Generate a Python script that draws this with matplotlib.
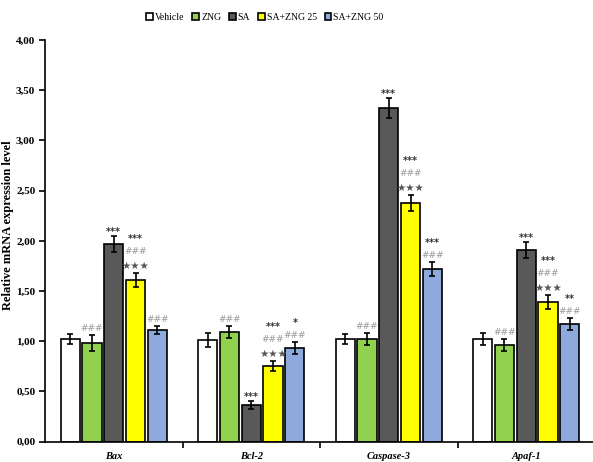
import matplotlib.pyplot as plt
import numpy as np

# Dados
genes = ['Bax', 'Bcl-2', 'Caspase-3', 'Apaf-1']
grupos = ['Vehicle', 'ZNG', 'SA', 'SA+ZNG 25', 'SA+ZNG 50']

vehicle = [1.02, 1.01, 1.02, 1.02]
zng = [0.98, 1.09, 1.02, 0.96]
sa = [1.97, 0.37, 3.32, 1.91]
sa_zng25 = [1.61, 0.75, 2.38, 1.39]
sa_zng50 = [1.11, 0.93, 1.72, 1.17]

err_vehicle = [0.05, 0.07, 0.05, 0.06]
err_zng = [0.08, 0.06, 0.06, 0.06]
err_sa = [0.08, 0.04, 0.10, 0.08]
err_sa_zng25 = [0.07, 0.05, 0.08, 0.07]
err_sa_zng50 = [0.04, 0.06, 0.07, 0.06]

# anotações de significância (de baixo para cima)
sig_vehicle = [[], [], [], []]
sig_zng = [['###'], ['###'], ['###'], ['###']]
sig_sa = [['***'], ['***'], ['***'], ['***']]
sig_sa_zng25 = [['★★★', '###', '***']] * 4
sig_sa_zng50 = [['###'], ['###', '*'], ['###', '***'], ['###', '**']]

y_ticks = [0, 0.5, 1.0, 1.5, 2.0, 2.5, 3.0, 3.5, 4.0]

valores = [vehicle, zng, sa, sa_zng25, sa_zng50]
erros = [err_vehicle, err_zng, err_sa, err_sa_zng25, err_sa_zng50]
sigs = [sig_vehicle, sig_zng, sig_sa, sig_sa_zng25, sig_sa_zng50]
cores = ['#FFFFFF', '#92D050', '#595959', '#FFFF00', '#8EA9DB']

serif = 'Liberation Serif'

fig = plt.figure(figsize=(5.93, 4.62), dpi=100)
ax = fig.add_axes([45 / 593, 20.3 / 462, 548 / 593, 401.7 / 462])

index = np.arange(len(genes))
passo = 0.1585
largura = 0.14

for i, (vals, errs, cor, nome, sig) in enumerate(zip(valores, erros, cores, grupos, sigs)):
    x = index + (i - 2) * passo
    ax.bar(x, vals, largura, color=cor, edgecolor='black', linewidth=1.2, label=nome, zorder=2)
    ax.errorbar(x, vals, yerr=errs, fmt='none', ecolor='black', elinewidth=1.2,
                capsize=2, capthick=1.2, zorder=3)
    for xi, v, e, textos in zip(x, vals, errs, sig):
        y = v + e + 0.02
        for t in textos:
            if t.startswith('★'):
                ax.text(xi, y, t, ha='center', va='bottom', fontsize=7.5, color='#555555',
                        family='DejaVu Sans')
            elif t.startswith('#'):
                ax.text(xi, y, t, ha='center', va='bottom', fontsize=6.5, color='#9a9a9a',
                        style='italic', family='DejaVu Sans')
            else:
                ax.text(xi, y - 0.03, t, ha='center', va='bottom', fontsize=7, color='#333333',
                        fontweight='bold', family='DejaVu Sans')
            y += 0.15

ax.set_xlim(-0.5, -0.5 + 548 / 137.5)
ax.set_ylim(0, 4)
ax.spines['top'].set_visible(False)
ax.spines['right'].set_visible(False)
ax.spines['left'].set_linewidth(1.2)
ax.spines['bottom'].set_linewidth(1.2)

ax.set_yticks(y_ticks)
ax.set_yticklabels([f'{v:.2f}'.replace('.', ',') for v in y_ticks],
                   fontsize=8, fontweight='bold', family=serif)
ax.tick_params(axis='y', direction='out', length=4, width=1.2, pad=3)

ax.set_xticks([0.5, 1.5, 2.5])
ax.set_xticklabels([])
ax.tick_params(axis='x', direction='out', length=4, width=1.2)
for g, xc in zip(genes, index):
    ax.text(xc, -0.1, g, ha='center', va='top', fontsize=7.5, fontweight='bold',
            style='italic', family=serif)

ax.set_ylabel('Relative mRNA expression level', fontsize=9, fontweight='bold', family=serif)
ax.yaxis.set_label_coords(-31 / 548, 0.54)

fig.legend(loc='center', bbox_to_anchor=(265 / 593, 1 - 17 / 462), ncol=5, frameon=False,
           prop={'family': serif, 'size': 7}, handlelength=0.7, handleheight=0.7,
           handletextpad=0.2, columnspacing=0.8)

fig.savefig('out.png', dpi=100)
